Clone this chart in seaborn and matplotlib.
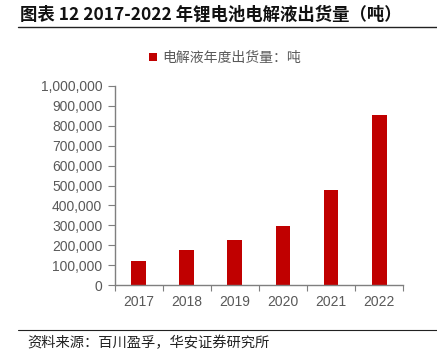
import matplotlib
matplotlib.use("Agg")
import matplotlib.pyplot as plt
import seaborn as sns
import pandas as pd
from matplotlib.ticker import FuncFormatter, FixedLocator
from matplotlib.lines import Line2D
from matplotlib.patches import Patch

years = ["2017", "2018", "2019", "2020", "2021", "2022"]
shipments = [119000, 174000, 225000, 296000, 477000, 856000]
series_name = "电解液年度出货量：吨"
title = "图表 12 2017-2022 年锂电池电解液出货量（吨）"
source = "资料来源：百川盈孚，华安证券研究所"

sns.set_theme(style="white")
plt.rcParams['font.family'] = ['Noto Sans CJK SC', 'DejaVu Sans']

df = pd.DataFrame({"year": years, "value": shipments})

fig = plt.figure(figsize=(4.37, 3.5), dpi=100)
ax = fig.add_axes([0.2625, 0.1857, 0.66, 0.5686])
sns.barplot(data=df, x="year", y="value", color="#C00000", width=0.31,
            saturation=1, ax=ax, edgecolor="none")

ax.set_ylim(0, 1000000)
ax.set_xlim(-0.5, len(years) - 0.5)
ax.yaxis.set_major_locator(FixedLocator(range(0, 1000001, 100000)))
ax.yaxis.set_major_formatter(FuncFormatter(lambda v, p: f"{int(v):,}"))
ax.set_xlabel("")
ax.set_ylabel("")
gray = "#595959"
for s in ["top", "right"]:
    ax.spines[s].set_visible(False)
for s in ["left", "bottom"]:
    ax.spines[s].set_color("#7f7f7f")
    ax.spines[s].set_linewidth(1.0)
ax.tick_params(axis="y", which="major", length=5, width=0.8, color="#7f7f7f",
               labelsize=10, labelcolor=gray, pad=4, left=True, direction="out")
ax.tick_params(axis="x", which="major", length=0, labelsize=10, labelcolor=gray, pad=7)
ax.set_xticks([i - 0.5 for i in range(len(years) + 1)], minor=True)
ax.tick_params(axis="x", which="minor", length=4, width=0.8, color="#7f7f7f",
               bottom=True, direction="out")
for lbl in ax.get_yticklabels() + ax.get_xticklabels():
    lbl.set_fontfamily(['Liberation Sans', 'DejaVu Sans'])

handle = Patch(facecolor="#C00000", edgecolor="none")
fig.legend([handle], [series_name], loc="center", bbox_to_anchor=(0.515, 0.834),
           frameon=False, fontsize=10, handlelength=0.55, handleheight=0.55,
           handletextpad=0.4, labelcolor=gray)

fig.text(0.045, 0.958, title, fontsize=12.5, fontweight="bold", color="#111111",
         va="center", ha="left")
fig.add_artist(Line2D([0.041, 1.0], [0.923, 0.923], color="#222222", linewidth=1.0,
                      transform=fig.transFigure))
fig.add_artist(Line2D([0.041, 1.0], [0.057, 0.057], color="#222222", linewidth=0.8,
                      transform=fig.transFigure))
fig.text(0.063, 0.021, source, fontsize=10.3, color="#222222", va="center", ha="left")

fig.savefig("out.png", dpi=100)
